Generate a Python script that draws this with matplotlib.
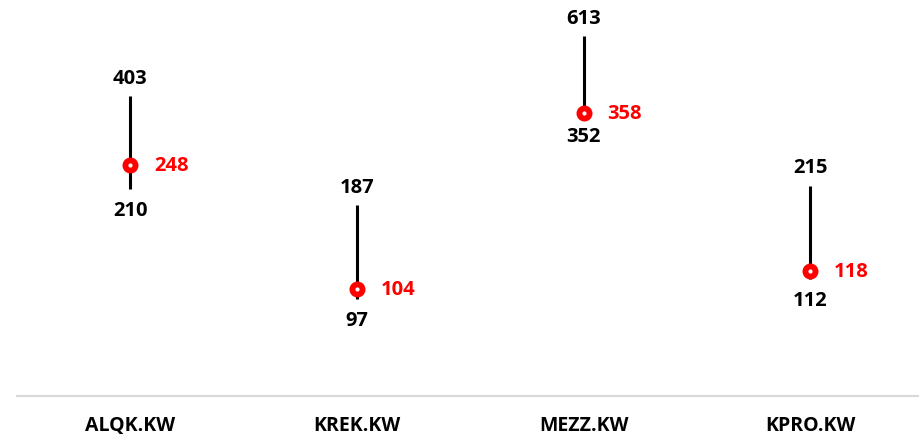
import numpy as np
import matplotlib.pyplot as plt

tickers = ['ALQK.KW', 'KREK.KW', 'MEZZ.KW', 'KPRO.KW']
high = [403, 187, 613, 215]
low = [210, 97, 352, 112]
current = [248, 104, 358, 118]

plt.rcParams['font.family'] = ['Open Sans', 'DejaVu Sans']

fig = plt.figure(figsize=(9.19, 4.35), dpi=100)
ax = fig.add_axes([17 / 919, 1 - 397 / 435, 902 / 919, 397 / 435])

x = np.arange(len(tickers))
ax.vlines(x, low, high, color='black', lw=2.2, zorder=2)
ax.plot(x, current, 'o', ms=10, mfc='red', mec='red', mew=1.5, zorder=3)
ax.plot(x, current, 'o', ms=3, mfc='white', mec='white', mew=0, zorder=4)

for xi, h, l, c in zip(x, high, low, current):
    ax.annotate(str(h), (xi, h), xytext=(0, 6), textcoords='offset points',
                ha='center', va='bottom', fontsize=14.5, fontweight='bold')
    ax.annotate(str(l), (xi, l), xytext=(0, -8), textcoords='offset points',
                ha='center', va='top', fontsize=14.5, fontweight='bold')
    ax.annotate(str(c), (xi, c), xytext=(17, 0), textcoords='offset points',
                ha='left', va='center', fontsize=14.5, fontweight='bold',
                color='red')

ax.set_yscale('log')
ax.set_ylim(49.2, 795)
ax.set_xlim(-0.5, 3.48)
ax.set_xticks(x)
ax.set_xticklabels(tickers, fontsize=14, fontweight='bold')
ax.tick_params(axis='x', length=0, pad=14)
ax.set_yticks([])
ax.minorticks_off()
ax.yaxis.set_minor_locator(plt.NullLocator())
for s in ['top', 'right', 'left']:
    ax.spines[s].set_visible(False)
ax.spines['bottom'].set_color('#d9d9d9')
ax.spines['bottom'].set_linewidth(1.5)

fig.savefig('out.png', dpi=100)
